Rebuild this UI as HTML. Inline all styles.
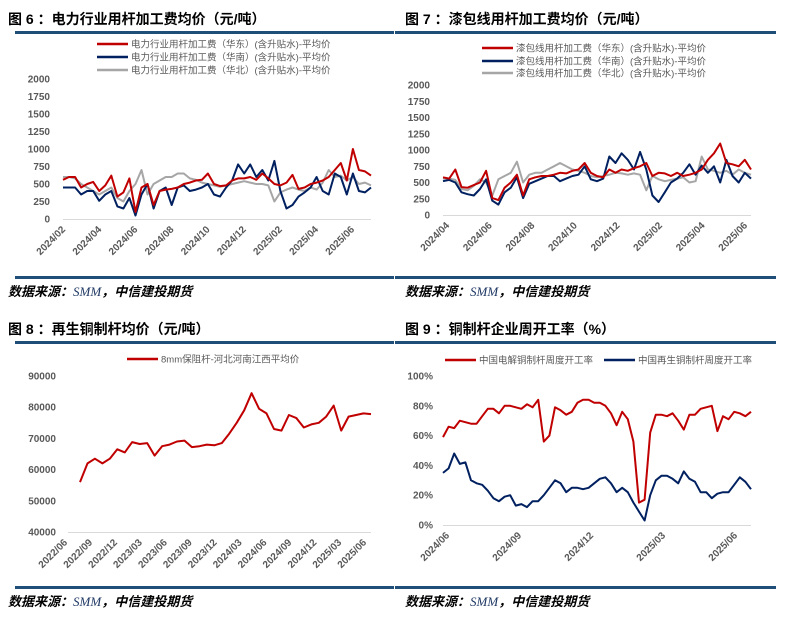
<!DOCTYPE html>
<html><head><meta charset="utf-8">
<style>
html,body{margin:0;padding:0;background:#fff;}
svg{display:block;font-family:"Liberation Sans","Noto Sans CJK SC",sans-serif;}
.title{font-size:14px;font-weight:bold;fill:#000;}
.leg{font-size:9.5px;fill:#595959;}
.tick{font-size:10px;font-weight:bold;fill:#595959;}
.src{font-size:13px;font-weight:bold;font-style:italic;fill:#000;}
</style></head>
<body>
<svg id="root" width="790" height="629" viewBox="0 0 790 629"></svg>
<script>
// ---------- Chart 6 data ----------
const c6Ticks = ["2024/02","2024/04","2024/06","2024/08","2024/10","2024/12","2025/02","2025/04","2025/06"];
const c6YTicks = [0,250,500,750,1000,1250,1500,1750,2000];
const c6East = [560,600,600,450,500,530,400,480,620,320,380,580,100,450,500,200,400,420,430,450,500,520,550,560,650,500,470,480,550,580,580,600,560,650,580,500,480,520,630,430,450,500,520,550,600,700,800,550,1000,700,680,620];
const c6South = [450,450,450,350,400,400,260,350,400,180,150,300,50,350,500,150,400,450,200,450,480,400,420,450,500,350,320,450,550,780,650,780,600,700,550,830,400,150,200,320,380,450,600,400,350,650,600,350,650,400,380,450];
const c6North = [600,600,580,500,450,400,350,400,450,300,250,400,500,700,350,500,550,600,600,650,650,580,560,520,500,480,460,480,500,520,540,520,500,500,480,250,380,420,450,420,400,450,420,520,700,600,620,550,600,500,520,480];
// ---------- Chart 7 data ----------
const c7Ticks = ["2024/04","2024/06","2024/08","2024/10","2024/12","2025/02","2025/04","2025/06"];
const c7YTicks = [0,250,500,750,1000,1250,1500,1750,2000];
const c7East = [580,560,700,430,420,460,500,680,260,230,420,500,620,300,550,580,600,600,620,650,640,680,700,800,650,600,580,700,650,700,680,720,750,800,600,650,640,600,650,600,620,650,700,850,950,1100,800,780,750,850,700];
const c7South = [520,540,500,350,320,300,400,550,220,160,350,420,580,260,480,520,560,600,600,520,560,600,620,750,550,520,560,900,800,950,850,700,970,700,300,200,350,500,560,650,780,620,760,650,750,500,850,600,500,650,560];
const c7North = [560,560,540,400,380,450,550,500,300,550,600,650,820,500,620,650,650,700,750,800,750,700,680,650,600,580,600,620,650,640,620,640,620,380,600,550,520,540,560,580,500,520,900,700,680,650,680,620,700,650,620];
// ---------- Chart 8 data ----------
const c8Ticks = ["2022/06","2022/09","2022/12","2023/03","2023/06","2023/09","2023/12","2024/03","2024/06","2024/09","2024/12","2025/03","2025/06"];
const c8YTicks = [40000,50000,60000,70000,80000,90000];
const c8Values = [56000,62000,63500,62000,63500,66500,65500,68800,68200,68500,64500,67500,68000,69000,69300,67200,67500,68000,67800,68500,71500,75000,79000,84500,79500,78000,73000,72500,77500,76500,73500,74500,75000,77000,80500,72500,77000,77500,78000,77800];
// ---------- Chart 9 data ----------
const c9Ticks = ["2024/06","2024/09","2024/12","2025/03","2025/06"];
const c9YTicks = [0,20,40,60,80,100];
const c9Electro = [59,66,65,70,69,68,68,73,78,78,75,80,80,79,78,81,79,84,56,60,79,77,74,76,82,84,84,82,82,80,75,67,76,71,56,15,17,62,74,74,73,75,70,64,74,74,78,79,80,63,73,71,76,75,73,76];
const c9Recycled = [35,38,48,41,42,30,28,27,23,18,16,19,20,13,14,12,16,16,20,25,30,28,22,25,25,24,25,28,31,32,28,22,25,22,15,9,3,20,30,33,33,31,28,36,31,29,22,22,18,21,22,22,27,32,29,24];

const NS="http://www.w3.org/2000/svg";
const root=document.getElementById('root');
function mk(tag,attrs,parent){const e=document.createElementNS(NS,tag);for(const k in attrs)e.setAttribute(k,attrs[k]);(parent||root).appendChild(e);return e;}
function txt(s,x,y,cls,parent,anchor){const t=mk('text',{x:x,y:y,class:cls},parent);if(anchor)t.setAttribute('text-anchor',anchor);t.textContent=s;return t;}

function panel(name,title,px){
  const g=mk('g',{});
  
  
  const t=txt(title,px.tx,px.ty,'title',g);
  
  
  const r1=mk('rect',{x:px.rx0,y:px.ry1,width:px.rx1-px.rx0,height:3,fill:'#1f4e79'},g);
  
  
  const r2=mk('rect',{x:px.rx0,y:px.ry2,width:px.rx1-px.rx0,height:3,fill:'#1f4e79'},g);
  
  
  const s=mk('text',{x:px.tx,y:px.ry2+20,class:'src'},g);
  
  
  const a=document.createElementNS(NS,'tspan');a.textContent='数据来源：';s.appendChild(a);
  const b=document.createElementNS(NS,'tspan');b.textContent='SMM';b.setAttribute('font-family','Liberation Serif, serif');b.setAttribute('fill','#1f3864');b.setAttribute('font-weight','normal');s.appendChild(b);
  const c=document.createElementNS(NS,'tspan');c.textContent='，中信建投期货';s.appendChild(c);
  return g;
}
function legend(g,items){
  items.forEach(it=>{
    const lg=mk('g',{},g);
    
    
    mk('line',{x1:it.x,y1:it.y,x2:it.x+31,y2:it.y,stroke:it.c,'stroke-width':2.5},lg);
    txt(it.t,it.x+34,it.y+3.5,'leg',lg);
  });
}
function axes(g,o){
  const yS=v=>o.y0+(v-o.ymin)/(o.ymax-o.ymin)*(o.y1-o.y0);
  mk('line',{x1:o.px0,y1:o.y0+0.5,x2:o.px1,y2:o.y0+0.5,stroke:'#d9d9d9','stroke-width':1},g);
  o.yt.forEach(v=>{
    const t=txt(o.fmt(v),o.yLabX,yS(v)+3.5,'tick',g,'end');
    
    
  });
  o.xt.forEach((s,i)=>{
    const x=o.xt0+i*(o.xt1-o.xt0)/(o.xt.length-1);
    const y=o.y0+11;
    const t=txt(s,x,y,'tick',g,'end');
    t.setAttribute('transform','rotate(-45 '+x+' '+y+')');
    
    
  });
  return yS;
}
function series(g,vals,o,yS,color,name,xa,xb){
  const a=xa===undefined?o.px0:xa,b=xb===undefined?o.px1:xb;
  const pts=vals.map((v,i)=>(a+i*(b-a)/(vals.length-1)).toFixed(1)+','+yS(v).toFixed(1)).join(' ');
  const p=mk('polyline',{points:pts,fill:'none',stroke:color,'stroke-width':2,'stroke-linejoin':'round'},g);
  
  
}
const RED='#c00000',BLUE='#002060',GRAY='#a6a6a6';

// Chart 6
{
 const g=panel('chart-6-power-rod-fee','图 6 ：电力行业用杆加工费均价（元/吨）',{tx:8,ty:24,rx0:15,rx1:394,ry1:31,ry2:276});
 legend(g,[{x:97,y:44,c:RED,t:'电力行业用杆加工费（华东）(含升贴水)-平均价'},{x:97,y:57,c:BLUE,t:'电力行业用杆加工费（华南）(含升贴水)-平均价'},{x:97,y:70,c:GRAY,t:'电力行业用杆加工费（华北）(含升贴水)-平均价'}]);
 const o={px0:63,px1:371,y0:219,y1:79,ymin:0,ymax:2000,yt:c6YTicks,fmt:v=>v,yLabX:50,xt:c6Ticks,xt0:66,xt1:355};
 const yS=axes(g,o);
 series(g,c6North,o,yS,GRAY,'series-north');
 series(g,c6South,o,yS,BLUE,'series-south');
 series(g,c6East,o,yS,RED,'series-east');
}
// Chart 7
{
 const g=panel('chart-7-enamel-rod-fee','图 7 ：漆包线用杆加工费均价（元/吨）',{tx:405,ty:24,rx0:395,rx1:776,ry1:31,ry2:276});
 legend(g,[{x:482,y:48,c:RED,t:'漆包线用杆加工费（华东）(含升贴水)-平均价'},{x:482,y:61,c:BLUE,t:'漆包线用杆加工费（华南）(含升贴水)-平均价'},{x:482,y:73,c:GRAY,t:'漆包线用杆加工费（华北）(含升贴水)-平均价'}]);
 const o={px0:443,px1:751,y0:215,y1:85,ymin:0,ymax:2000,yt:c7YTicks,fmt:v=>v,yLabX:430,xt:c7Ticks,xt0:450,xt1:748};
 const yS=axes(g,o);
 series(g,c7North,o,yS,GRAY,'series-north');
 series(g,c7South,o,yS,BLUE,'series-south');
 series(g,c7East,o,yS,RED,'series-east');
}
// Chart 8
{
 const g=panel('chart-8-recycled-rod-price','图 8 ：再生铜制杆均价（元/吨）',{tx:8,ty:334,rx0:15,rx1:394,ry1:341,ry2:586});
 legend(g,[{x:127,y:359,c:RED,t:'8mm保阻杆-河北河南江西平均价'}]);
 const o={px0:68,px1:371,y0:532,y1:376,ymin:40000,ymax:90000,yt:c8YTicks,fmt:v=>v,yLabX:56,xt:c8Ticks,xt0:68,xt1:367};
 const yS=axes(g,o);
 series(g,c8Values,o,yS,RED,'series-price',80,371);
}
// Chart 9
{
 const g=panel('chart-9-operating-rate','图 9 ：铜制杆企业周开工率（%）',{tx:405,ty:334,rx0:395,rx1:776,ry1:341,ry2:586});
 legend(g,[{x:445,y:360,c:RED,t:'中国电解铜制杆周度开工率'},{x:604,y:360,c:BLUE,t:'中国再生铜制杆周度开工率'}]);
 const o={px0:443,px1:751,y0:525,y1:376,ymin:0,ymax:100,yt:c9YTicks,fmt:v=>v+'%',yLabX:433,xt:c9Ticks,xt0:450,xt1:738};
 const yS=axes(g,o);
 series(g,c9Electro,o,yS,RED,'series-electrolytic');
 series(g,c9Recycled,o,yS,BLUE,'series-recycled');
}
</script>
</body></html>
